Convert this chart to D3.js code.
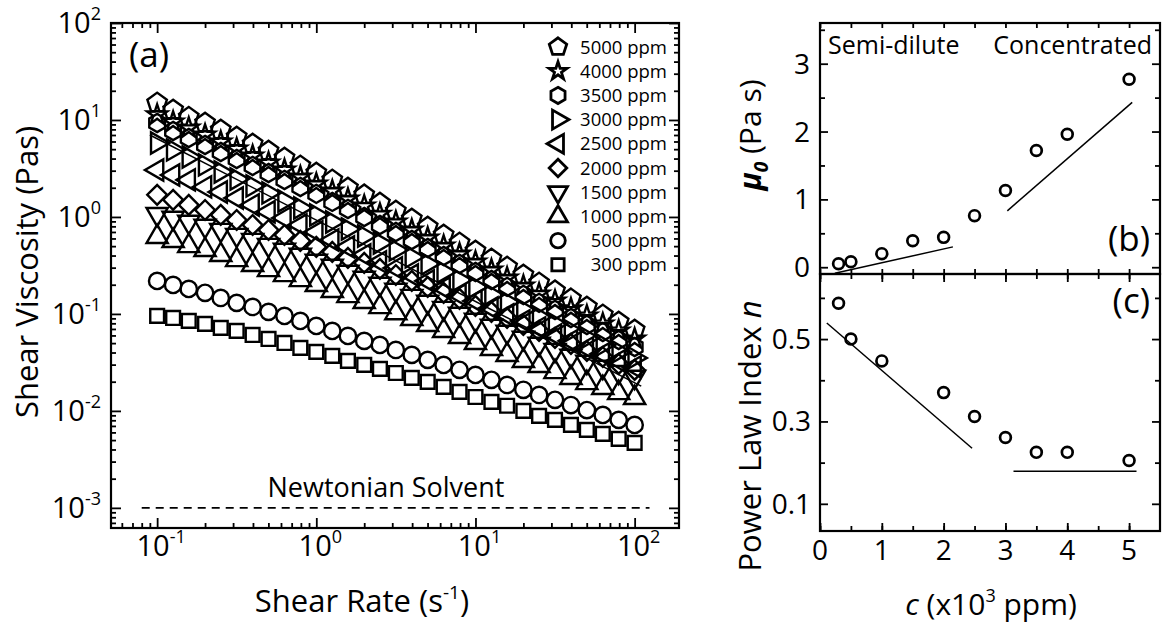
<!DOCTYPE html>
<html>
<head>
<meta charset="utf-8">
<script src="https://cdn.jsdelivr.net/npm/d3@7"></script>
<style>
  body { margin: 0; background: #fff; }
  svg { display: block; font-family: "Open Sans", sans-serif; }
</style>
</head>
<body>
<div id="chart"></div>
<script>
// ---- data, panel (a): viscosity (Pa s) vs shear rate (1/s)
const shearRate = [0.1, 0.126, 0.158, 0.2, 0.251, 0.316, 0.398, 0.501, 0.631, 0.794,
  1, 1.26, 1.58, 2, 2.51, 3.16, 3.98, 5.01, 6.31, 7.94,
  10, 12.6, 15.8, 20, 25.1, 31.6, 39.8, 50.1, 63.1, 79.4, 100];

const visc5000 = [15.0, 12.7, 10.7, 9.31, 7.89, 6.68, 5.66, 4.79, 4.06, 3.36, 2.84, 2.41, 1.99, 1.69, 1.39, 1.15,
  0.954, 0.789, 0.652, 0.540, 0.446, 0.369, 0.305, 0.252, 0.209, 0.173, 0.143, 0.118, 0.0977, 0.0827, 0.0684];
const visc4000 = [11.3, 9.54, 8.27, 7.00, 5.93, 5.02, 4.25, 3.60, 3.05, 2.58, 2.19, 1.85, 1.53, 1.30, 1.07, 0.888,
  0.734, 0.607, 0.502, 0.415, 0.344, 0.284, 0.235, 0.194, 0.161, 0.136, 0.113, 0.0954, 0.0789, 0.0668, 0.0552];
const visc3500 = [9.31, 7.70, 6.52, 5.52, 4.68, 3.96, 3.36, 2.84, 2.41, 2.04, 1.73, 1.43, 1.21, 1.00, 0.827, 0.700,
  0.579, 0.479, 0.396, 0.328, 0.271, 0.224, 0.190, 0.157, 0.130, 0.110, 0.0909, 0.0770, 0.0652, 0.0539, 0.0457];
const visc3000 = [5.79, 4.91, 4.15, 3.44, 2.91, 2.46, 2.09, 1.77, 1.46, 1.24, 1.05, 0.888, 0.752, 0.637, 0.539, 0.457,
  0.387, 0.328, 0.271, 0.224, 0.190, 0.157, 0.133, 0.110, 0.0931, 0.0789, 0.0668, 0.0566, 0.0479, 0.0406, 0.0352];
const visc2500 = [3.05, 2.71, 2.41, 2.04, 1.81, 1.57, 1.33, 1.13, 0.977, 0.827, 0.700, 0.579, 0.491, 0.406, 0.344, 0.298,
  0.252, 0.219, 0.185, 0.157, 0.136, 0.115, 0.0977, 0.0847, 0.0717, 0.0607, 0.0527, 0.0446, 0.0387, 0.0328, 0.0284];
const visc2000 = [1.69, 1.50, 1.33, 1.18, 1.05, 0.931, 0.827, 0.734, 0.652, 0.566, 0.491, 0.436, 0.378, 0.336, 0.291, 0.252,
  0.219, 0.190, 0.165, 0.143, 0.121, 0.105, 0.0909, 0.0770, 0.0668, 0.0566, 0.0491, 0.0415, 0.0360, 0.0305, 0.0265];
const visc1500 = [1.07, 0.977, 0.888, 0.808, 0.734, 0.652, 0.579, 0.514, 0.457, 0.406, 0.352, 0.313, 0.271, 0.235, 0.204, 0.177,
  0.153, 0.133, 0.115, 0.100, 0.0867, 0.0752, 0.0652, 0.0566, 0.0491, 0.0425, 0.0369, 0.0320, 0.0284, 0.0252, 0.0224];
const visc1000 = [0.622, 0.566, 0.502, 0.457, 0.406, 0.360, 0.320, 0.284, 0.252, 0.224, 0.199, 0.173, 0.153, 0.133, 0.118, 0.102,
  0.0888, 0.0770, 0.0668, 0.0579, 0.0502, 0.0436, 0.0378, 0.0328, 0.0291, 0.0252, 0.0219, 0.0194, 0.0173, 0.0153, 0.0136];
const visc500 = [0.219, 0.199, 0.181, 0.165, 0.146, 0.130, 0.118, 0.105, 0.0954, 0.0847, 0.0752, 0.0668, 0.0593, 0.0527, 0.0479, 0.0425,
  0.0378, 0.0336, 0.0298, 0.0265, 0.0235, 0.0209, 0.0185, 0.0165, 0.0146, 0.0130, 0.0115, 0.0102, 0.00909, 0.00808, 0.00717];
const visc300 = [0.0954, 0.0909, 0.0847, 0.0789, 0.0717, 0.0668, 0.0607, 0.0552, 0.0502, 0.0446, 0.0406, 0.0369, 0.0328, 0.0298, 0.0271, 0.0246,
  0.0219, 0.0199, 0.0177, 0.0157, 0.0139, 0.0124, 0.0113, 0.0100, 0.00888, 0.00808, 0.00717, 0.00637, 0.00579, 0.00514, 0.00468];

const seriesNames = ["5000 ppm", "4000 ppm", "3500 ppm", "3000 ppm", "2500 ppm",
  "2000 ppm", "1500 ppm", "1000 ppm", "500 ppm", "300 ppm"];
const seriesValues = [visc5000, visc4000, visc3500, visc3000, visc2500,
  visc2000, visc1500, visc1000, visc500, visc300];

// straight guide line and solvent viscosity
const fitRateA = [0.09, 110];
const fitViscA = [7.0, 0.018];
const solventRate = [0.08, 124];
const solventVisc = 0.001;

// ---- data, panels (b) and (c)
const muConc = [0.3, 0.5, 1, 1.5, 2, 2.5, 3, 3.5, 4, 5];
const mu0 = [0.05, 0.08, 0.2, 0.39, 0.44, 0.76, 1.13, 1.72, 1.96, 2.77];
const muFitLow = [[0.24, -0.09], [2.15, 0.30]];
const muFitHigh = [[3.03, 0.83], [5.05, 2.43]];

const nConc = [0.3, 0.5, 1, 2, 2.5, 3, 3.5, 4, 5];
const nIndex = [0.587, 0.50, 0.447, 0.370, 0.312, 0.261, 0.225, 0.225, 0.205];
const nFitLow = [[0.11, 0.539], [2.46, 0.235]];
const nFitHigh = [[3.13, 0.179], [5.12, 0.179]];

// ---- ticks
const xMajorA = [0.1, 1, 10, 100];
const xMinorA = [0.06, 0.07, 0.08, 0.09, 0.2, 0.3, 0.4, 0.5, 0.6, 0.7, 0.8, 0.9,
  2, 3, 4, 5, 6, 7, 8, 9, 20, 30, 40, 50, 60, 70, 80, 90];
const yMajorA = [0.001, 0.01, 0.1, 1, 10, 100];
const yMinorA = [0.0007, 0.0008, 0.0009];
for (let dec of [0.001, 0.01, 0.1, 1, 10]) for (let m = 2; m <= 9; m++) yMinorA.push(+(dec * m).toPrecision(2));
const cTicks = [0, 1, 2, 3, 4, 5];
const cMinor = [0.5, 1.5, 2.5, 3.5, 4.5];
const muTicks = [0, 1, 2, 3];
const muMinor = [0.5, 1.5, 2.5, 3.5];
const nTicks = [0.1, 0.3, 0.5];
const nMinor = [0.2, 0.4, 0.6];

// ---- layout
const width = 1165, height = 628;
const boxA = { left: 111, right: 679, top: 23, bottom: 528 };
const boxB = { left: 820, right: 1160, top: 23, bottom: 274 };
const boxC = { left: 820, right: 1160, top: 274, bottom: 531 };

const svg = d3.select("#chart")
  .append("svg")
  .attr("width", width)
  .attr("height", height)
  .attr("viewBox", [0, 0, width, height]);

const xa = d3.scaleLog().domain([0.0513, 190]).range([boxA.left, boxA.right]);
const ya = d3.scaleLog().domain([0.00062, 100]).range([boxA.bottom, boxA.top]);
const xc = d3.scaleLinear().domain([0, 5.5]).range([boxB.left, boxB.right]);
const yb = d3.scaleLinear().domain([-0.1, 3.6]).range([boxB.bottom, boxB.top]);
const yc = d3.scaleLinear().domain([0.034, 0.658]).range([boxC.bottom, boxC.top]);

// draw inward ticks on all four sides of a box
function ticks(box, x, y, xVals, yVals, len) {
  const g = svg.append("g");
  const style = sel => {
    sel.select(".domain").remove();
    sel.selectAll("line").attr("stroke-width", 1.8);
  };
  if (xVals) {
    g.append("g").attr("transform", `translate(0,${box.bottom})`)
      .call(d3.axisBottom(x).tickValues(xVals).tickSize(-len).tickFormat("")).call(style);
    g.append("g").attr("transform", `translate(0,${box.top})`)
      .call(d3.axisTop(x).tickValues(xVals).tickSize(-len).tickFormat("")).call(style);
  }
  if (yVals) {
    g.append("g").attr("transform", `translate(${box.left},0)`)
      .call(d3.axisLeft(y).tickValues(yVals).tickSize(-len).tickFormat("")).call(style);
    g.append("g").attr("transform", `translate(${box.right},0)`)
      .call(d3.axisRight(y).tickValues(yVals).tickSize(-len).tickFormat("")).call(style);
  }
}

function frame(box) {
  svg.append("rect")
    .attr("x", box.left).attr("y", box.top)
    .attr("width", box.right - box.left).attr("height", box.bottom - box.top)
    .attr("fill", "none").attr("stroke", "#000").attr("stroke-width", 2.2);
}

// ---- symbols
const polygon = (n, areaK, rot) => ({
  draw(ctx, size) {
    const r = Math.sqrt(size / areaK);
    for (let k = 0; k < n; k++) {
      const a = rot + k * 2 * Math.PI / n;
      if (k === 0) ctx.moveTo(r * Math.cos(a), r * Math.sin(a));
      else ctx.lineTo(r * Math.cos(a), r * Math.sin(a));
    }
    ctx.closePath();
  }
});
const pentagon = polygon(5, 2.378, -Math.PI / 2);
const hexagon = polygon(6, 2.598, -Math.PI / 2);

const markers = [
  { type: pentagon, size: 250, rot: 0 },
  { type: d3.symbolStar, size: 125, rot: 0 },
  { type: hexagon, size: 215, rot: 0 },
  { type: d3.symbolTriangle, size: 195, rot: 90 },
  { type: d3.symbolTriangle, size: 195, rot: -90 },
  { type: d3.symbolSquare, size: 195, rot: 45 },
  { type: d3.symbolTriangle, size: 195, rot: 180 },
  { type: d3.symbolTriangle, size: 195, rot: 0 },
  { type: d3.symbolCircle, size: 210, rot: 0 },
  { type: d3.symbolSquare, size: 190, rot: 0 }
];

// ================= panel (a)
ticks(boxA, xa, ya, xMinorA, yMinorA, 5);
ticks(boxA, xa, ya, xMajorA, yMajorA, 10);

svg.append("path")
  .attr("d", d3.line().x(d => xa(d)).y(() => ya(solventVisc))(solventRate))
  .attr("stroke", "#000").attr("stroke-width", 1.6)
  .attr("stroke-dasharray", "8,6").attr("fill", "none");

svg.append("text")
  .attr("x", 386).attr("y", 497)
  .attr("text-anchor", "middle").attr("font-size", 27)
  .text("Newtonian Solvent");

svg.append("path")
  .attr("d", d3.line().x((d, i) => xa(d)).y((d, i) => ya(fitViscA[i]))(fitRateA))
  .attr("stroke", "#000").attr("stroke-width", 1.5).attr("fill", "none");

seriesValues.forEach((vals, s) => {
  const m = markers[s];
  const path = d3.symbol().type(m.type).size(m.size)();
  svg.append("g")
    .selectAll("path")
    .data(vals)
    .join("path")
    .attr("d", path)
    .attr("transform", (d, i) => `translate(${xa(shearRate[i])},${ya(d)}) rotate(${m.rot})`)
    .attr("fill", "none")
    .attr("stroke", "#000")
    .attr("stroke-width", 2.4);
});

// legend
seriesNames.forEach((name, s) => {
  const m = markers[s];
  const ly = 47 + s * 24.2;
  svg.append("path")
    .attr("d", d3.symbol().type(m.type).size(m.size * 0.8)())
    .attr("transform", `translate(558,${ly}) rotate(${m.rot})`)
    .attr("fill", "none").attr("stroke", "#000").attr("stroke-width", 2.8);
  svg.append("text")
    .attr("x", 667).attr("y", ly + 6.5)
    .attr("text-anchor", "end").attr("font-size", 18.5)
    .text(name);
});

frame(boxA);

svg.append("text")
  .attr("x", 129).attr("y", 67)
  .attr("font-size", 35)
  .text("(a)");

// tick labels with powers of ten
const power = d => Math.round(Math.log10(d));
svg.selectAll(".ylabA")
  .data(yMajorA)
  .join("text")
  .attr("x", 101).attr("y", d => ya(d) + 10)
  .attr("text-anchor", "end").attr("font-size", 29)
  .text("10")
  .append("tspan").attr("dy", -13).attr("font-size", 18)
  .text(d => power(d) < 0 ? "-" + (-power(d)) : power(d));

svg.selectAll(".xlabA")
  .data(xMajorA)
  .join("text")
  .attr("x", d => xa(d) + 4).attr("y", 556)
  .attr("text-anchor", "middle").attr("font-size", 29)
  .text("10")
  .append("tspan").attr("dy", -13).attr("font-size", 18)
  .text(d => power(d) < 0 ? "-" + (-power(d)) : power(d));

svg.append("text")
  .attr("transform", "translate(38,272) rotate(-90)")
  .attr("text-anchor", "middle").attr("font-size", 31)
  .text("Shear Viscosity (Pas)");

const xt = svg.append("text")
  .attr("x", 362).attr("y", 612)
  .attr("text-anchor", "middle").attr("font-size", 31)
  .text("Shear Rate (s");
xt.append("tspan").attr("dy", -13).attr("font-size", 19).text("-1");
xt.append("tspan").attr("dy", 13).text(")");

// ================= panel (b)
ticks(boxB, xc, yb, cTicks.concat(cMinor), muMinor, 5);
ticks(boxB, xc, yb, null, muTicks, 8);

const seg = (x, y) => d3.line().x(d => x(d[0])).y(d => y(d[1]));

svg.append("path").attr("d", seg(xc, yb)(muFitLow))
  .attr("stroke", "#000").attr("stroke-width", 1.5).attr("fill", "none");
svg.append("path").attr("d", seg(xc, yb)(muFitHigh))
  .attr("stroke", "#000").attr("stroke-width", 1.5).attr("fill", "none");

svg.append("g").selectAll("circle")
  .data(mu0)
  .join("circle")
  .attr("cx", (d, i) => xc(muConc[i])).attr("cy", d => yb(d))
  .attr("r", 5.4).attr("fill", "none").attr("stroke", "#000").attr("stroke-width", 2.7);

frame(boxB);

svg.append("text").attr("x", 828).attr("y", 54).attr("font-size", 25).text("Semi-dilute");
svg.append("text").attr("x", 1152).attr("y", 54).attr("text-anchor", "end").attr("font-size", 25).text("Concentrated");
svg.append("text").attr("x", 1150).attr("y", 251).attr("text-anchor", "end").attr("font-size", 35).text("(b)");

svg.selectAll(".ylabB")
  .data(muTicks)
  .join("text")
  .attr("x", 810).attr("y", d => yb(d) + 10)
  .attr("text-anchor", "end").attr("font-size", 28)
  .text(d => d);

const mt = svg.append("text")
  .attr("transform", "translate(761,135) rotate(-90)")
  .attr("text-anchor", "middle").attr("font-size", 30);
mt.append("tspan").attr("font-style", "italic").attr("font-weight", "bold").text("μ");
mt.append("tspan").attr("font-style", "italic").attr("font-weight", "bold")
  .attr("font-size", 19).attr("dy", 7).text("0");
mt.append("tspan").attr("dy", -7).text("  (Pa s)");

// ================= panel (c)
ticks(boxC, xc, yc, cTicks.concat(cMinor), nMinor, 5);
ticks(boxC, xc, yc, cTicks, nTicks, 8);

svg.append("path").attr("d", seg(xc, yc)(nFitLow))
  .attr("stroke", "#000").attr("stroke-width", 1.5).attr("fill", "none");
svg.append("path").attr("d", seg(xc, yc)(nFitHigh))
  .attr("stroke", "#000").attr("stroke-width", 1.5).attr("fill", "none");

svg.append("g").selectAll("circle")
  .data(nIndex)
  .join("circle")
  .attr("cx", (d, i) => xc(nConc[i])).attr("cy", d => yc(d))
  .attr("r", 5.4).attr("fill", "none").attr("stroke", "#000").attr("stroke-width", 2.7);

frame(boxC);

svg.append("text").attr("x", 1150).attr("y", 313).attr("text-anchor", "end").attr("font-size", 35).text("(c)");

svg.selectAll(".ylabC")
  .data(nTicks)
  .join("text")
  .attr("x", 811).attr("y", d => yc(d) + 10)
  .attr("text-anchor", "end").attr("font-size", 28)
  .text(d => d.toFixed(1));

svg.selectAll(".xlabC")
  .data(cTicks)
  .join("text")
  .attr("x", d => xc(d)).attr("y", 560)
  .attr("text-anchor", "middle").attr("font-size", 28)
  .text(d => d);

const nt = svg.append("text")
  .attr("transform", "translate(761,436) rotate(-90)")
  .attr("text-anchor", "middle").attr("font-size", 31)
  .text("Power Law Index ");
nt.append("tspan").attr("font-style", "italic").text("n");

const ct = svg.append("text")
  .attr("x", 991).attr("y", 615)
  .attr("text-anchor", "middle").attr("font-size", 30);
ct.append("tspan").attr("font-style", "italic").text("c");
ct.append("tspan").text(" (x10");
ct.append("tspan").attr("dy", -13).attr("font-size", 18).text("3");
ct.append("tspan").attr("dy", 13).text(" ppm)");
</script>
</body>
</html>
